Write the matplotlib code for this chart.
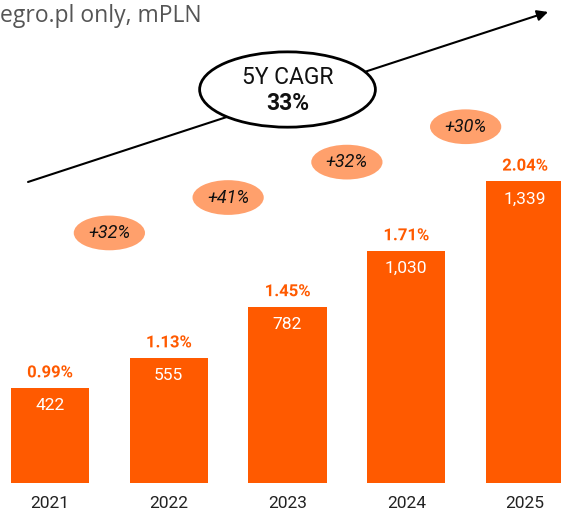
import matplotlib
matplotlib.use('Agg')
import matplotlib.pyplot as plt
import matplotlib.patheffects as pe
from matplotlib.patches import Ellipse

# data
years = ['2021', '2022', '2023', '2024', '2025']
values = [422, 555, 782, 1030, 1339]
shares = ['0.99%', '1.13%', '1.45%', '1.71%', '2.04%']
growth = ['+32%', '+41%', '+32%', '+30%']
cagr = '33%'

ORANGE = '#FF5A00'
LIGHT = '#FFA06C'

fig = plt.figure(figsize=(5.61, 5.09), dpi=100)
ax = fig.add_axes([0, 26 / 509, 1, 483 / 509])
ax.set_xlim(-0.421, 4.303)
ax.set_ylim(0, 2142)
for s in ax.spines.values():
    s.set_visible(False)
ax.set_yticks([])

xs = list(range(len(years)))
ax.bar(xs, values, width=0.657, color=ORANGE, zorder=2)
ax.set_xticks(xs)
ax.set_xticklabels(years, fontfamily='Roboto', fontsize=12.5, color='#222222')
ax.tick_params(axis='x', length=0, pad=9)

for x, v, s in zip(xs, values, shares):
    ax.annotate('{:,}'.format(v), (x, v), xytext=(0, -18), textcoords='offset pixels',
                ha='center', va='center', color='white', fontsize=12.5,
                fontfamily='Roboto', zorder=3)
    ax.annotate(s, (x, v), xytext=(0, 15), textcoords='offset pixels',
                ha='center', va='center', color=ORANGE, fontsize=12,
                fontweight='bold', fontfamily='Roboto', zorder=3,
                path_effects=[pe.withStroke(linewidth=3, foreground='white')])

# growth bubbles between bars
for i, g in enumerate(growth):
    cx = i + 0.5
    cy = 1109 + 157 * i
    ax.add_patch(Ellipse((cx, cy), 0.6, 154, color=LIGHT, lw=0, zorder=2))
    ax.text(cx, cy, g, ha='center', va='center', style='italic', fontsize=13,
            fontfamily='Roboto', color='#111111', zorder=3)

# trend arrow with CAGR bubble
ax.annotate('', xy=(4.194, 2089), xytext=(-0.185, 1335),
            arrowprops=dict(arrowstyle='-|>', color='black', lw=1.5,
                            mutation_scale=16, shrinkA=0, shrinkB=0), zorder=4)
ax.add_patch(Ellipse((2.0, 1745), 1.48, 334, facecolor='white',
                     edgecolor='black', lw=2, zorder=5))
ax.text(2.0, 1797, '5Y CAGR', ha='center', va='center', fontsize=16.5,
        fontfamily='Roboto', color='#111111', zorder=6)
ax.text(2.0, 1685, cagr, ha='center', va='center', fontsize=16.5,
        fontweight='bold', fontfamily='Roboto', color='#111111', zorder=6)

fig.text(0.0, 1 - 16 / 509, 'egro.pl only, mPLN', ha='left', va='center',
         fontsize=16.5, fontfamily='Open Sans', color='#555555')

fig.savefig('out.png', dpi=100)
